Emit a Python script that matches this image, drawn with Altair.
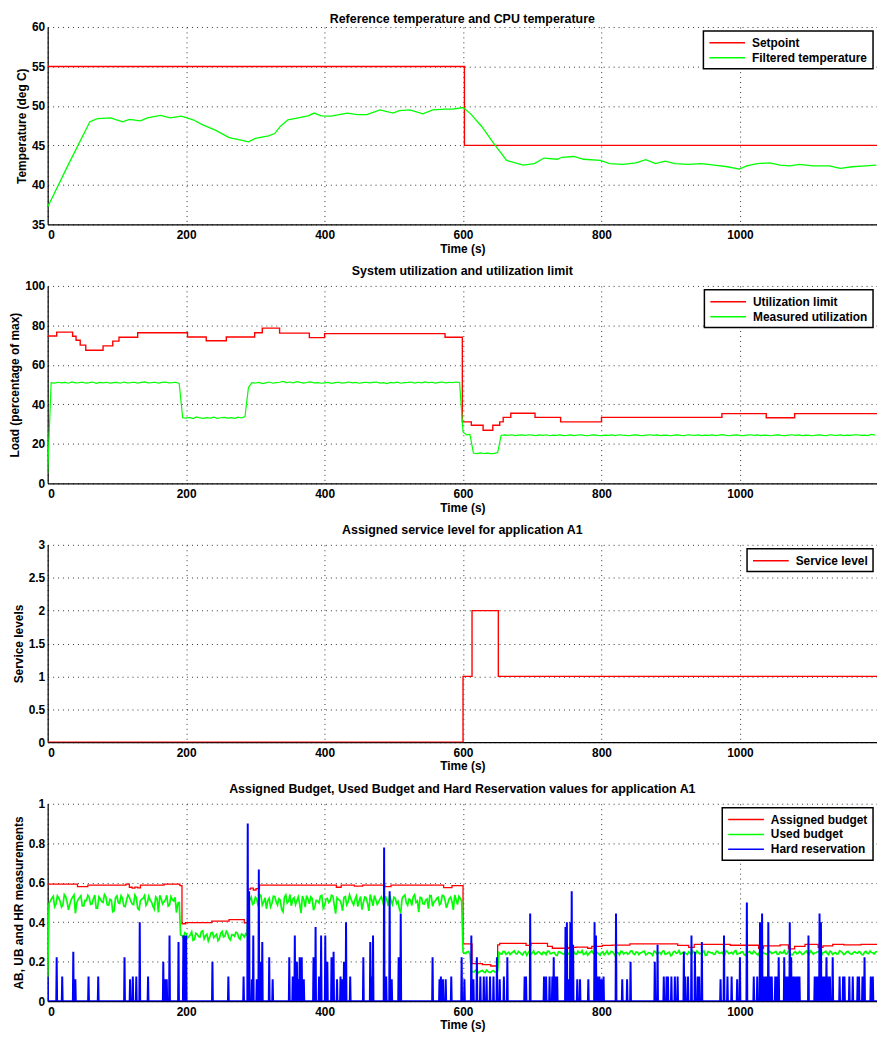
import altair as alt
import pandas as pd

FONT = "Liberation Sans"
RED, GREEN, BLUE = "#ff0000", "#00ff00", "#0000ff"
T_END = 1198
X_TICKS = [0, 200, 400, 600, 800, 1000]

# ---------------- Panel 1: temperatures ----------------
setpoint_t = [0, 602, 1198]
setpoint_v = [55, 45, 45]
temp_t = [0, 30, 61, 72, 91, 108, 118, 134, 144, 163,
          177, 193, 210, 224, 243, 262, 276, 290, 300, 319,
          328, 336, 347, 362, 376, 385, 395, 409, 433, 447,
          461, 480, 499, 508, 523, 542, 556, 575, 585, 600,
          611, 627, 644, 663, 687, 703, 717, 736, 743, 760,
          774, 798, 812, 831, 850, 864, 878, 892, 906, 925,
          944, 963, 982, 999, 1010, 1025, 1043, 1058, 1072, 1086,
          1105, 1129, 1145, 1162, 1181, 1197]
temp_v = [37.2, 42.6, 48.0, 48.4, 48.5, 48.0, 48.3, 48.1, 48.5, 48.8,
          48.5, 48.7, 48.25, 47.6, 46.9, 46.0, 45.75, 45.45, 45.9, 46.2,
          46.5, 47.4, 48.25, 48.5, 48.75, 49.1, 48.75, 48.7, 49.1, 48.9,
          48.9, 49.5, 49.1, 49.4, 49.5, 49.0, 49.5, 49.6, 49.6, 49.8,
          49.0, 47.4, 45.3, 43.1, 42.5, 42.7, 43.4, 43.25, 43.5, 43.6,
          43.25, 43.1, 42.7, 42.6, 42.8, 43.2, 42.7, 43.0, 42.7, 42.6,
          42.7, 42.5, 42.3, 42.0, 42.4, 42.7, 42.8, 42.5, 42.4, 42.6,
          42.4, 42.4, 42.1, 42.3, 42.4, 42.5]

# ---------------- Panel 2: utilization ----------------
limit_t = [0, 13, 36, 41, 47, 55, 80, 94, 103, 130,
           202, 229, 258, 299, 310, 335, 378, 400, 574, 599,
           612, 629, 643, 653, 658, 669, 704, 741, 800, 974,
           1038, 1079, 1198]
limit_v = [74.6, 76.6, 74.5, 72.5, 70.0, 67.4, 69.6, 72.0, 74.0, 76.3,
           74.1, 72.2, 74.1, 76.3, 78.6, 76.1, 73.8, 75.8, 74.0, 31.1,
           29.4, 26.9, 29.4, 31.1, 33.4, 35.5, 33.4, 31.1, 33.4, 35.3,
           33.2, 35.3, 35.3]
UTIL_STEP = 5  # seconds between samples
util_v = [
    5.0, 51.0, 50.8, 51.2, 50.9, 51.1, 50.7, 51.4, 50.9, 51.0,
    51.2, 50.8, 51.0, 51.3, 50.6, 51.1, 50.9, 51.2, 50.8, 51.0,
    51.1, 50.7, 51.3, 50.9, 51.0, 51.2, 50.8, 51.1, 51.4, 50.9,
    51.0, 51.2, 50.8, 51.1, 51.3, 50.9, 51.0, 51.2, 50.6, 33.2,
    33.0, 33.4, 32.8, 33.6, 33.1, 32.9, 33.3, 33.0, 33.5, 32.9,
    33.2, 33.4, 33.0, 33.3, 32.9, 33.5, 33.1, 33.8, 48.5, 51.0,
    50.8, 51.1, 50.5, 50.9, 51.3, 50.7, 51.0, 51.2, 51.6, 51.0,
    51.3, 50.9, 51.5, 51.1, 50.8, 51.2, 51.4, 50.9, 51.0, 50.7,
    50.9, 51.1, 50.6, 51.0, 51.2, 50.8, 51.0, 51.3, 50.9, 51.1,
    50.7, 51.0, 51.2, 50.9, 51.1, 51.3, 50.8, 51.0, 50.5, 51.1,
    50.9, 51.2, 50.7, 51.0, 51.1, 51.3, 50.8, 51.2, 50.9, 51.4,
    51.0, 51.2, 50.8, 51.1, 51.3, 50.9, 51.2, 51.0, 51.3, 51.1,
    26.0, 24.5, 24.8, 15.3, 15.0, 15.4, 15.1, 15.3, 15.0, 15.2,
    15.6, 24.2, 24.5, 24.3, 24.6, 24.2, 24.4, 24.5, 24.3, 24.6,
    24.4, 24.2, 24.5, 24.3, 24.6, 24.1, 24.4, 24.3, 24.5, 24.2,
    24.3, 24.5, 24.2, 24.4, 24.6, 24.3, 24.1, 24.4, 24.5, 24.3,
    24.2, 24.4, 24.3, 24.5, 24.2, 24.6, 24.4, 24.3, 24.1, 24.4,
    24.5, 24.3, 24.2, 24.4, 24.6, 24.3, 24.5, 24.2, 24.4, 24.3,
    24.1, 24.4, 24.5, 24.3, 24.2, 24.6, 24.4, 24.3, 24.5, 24.2,
    24.4, 24.3, 24.5, 24.2, 24.4, 24.7, 24.3, 24.1, 24.4, 24.5,
    24.3, 24.2, 24.4, 24.6, 24.3, 24.5, 24.2, 24.4, 24.3, 24.1,
    24.4, 24.5, 24.3, 24.2, 24.4, 24.6, 24.3, 24.5, 24.2, 24.4,
    24.3, 24.1, 24.4, 24.5, 24.3, 24.2, 24.6, 24.4, 24.3, 24.5,
    24.2, 24.4, 24.3, 24.5, 24.6, 24.3, 24.4, 24.2, 24.8, 24.4,
]

# ---------------- Panel 3: service level ----------------
level_t = [0, 600, 613, 651, 1198]
level_v = [0, 1, 2, 1, 1]

# ---------------- Panel 4: budgets ----------------
assigned = [
    (0, .593), (43, .580), (58, .588), (113, .593), (118, .577), (122, .572),
    (126, .578), (130, .574), (134, .588), (168, .593), (191, .585), (194, .392),
    (199, .398), (237, .405), (262, .413), (284, .397), (289, .567), (293, .572),
    (297, .563), (301, .570), (306, .588), (417, .577), (424, .588), (443, .583),
    (455, .588), (487, .580), (496, .588), (572, .575), (584, .585), (600, .290),
    (613, .190), (628, .185), (640, .178), (650, .285), (653, .293), (691, .282),
    (698, .293), (722, .277), (729, .268), (753, .272), (763, .274), (780, .268),
    (786, .277), (801, .282), (815, .284), (841, .290), (910, .282), (926, .272),
    (934, .288), (986, .283), (1027, .267), (1034, .280), (1058, .285), (1070, .265),
    (1079, .277), (1094, .287), (1113, .273), (1120, .280), (1134, .288), (1150, .285),
    (1175, .288), (1198, .288),
]
# Used budget, in thousandths: samples at t = 0, 4, 8, ... (even grid)
used_even = [
    120, 508, 531, 492, 522, 476, 540, 503, 491, 527,
    445, 515, 534, 482, 509, 525, 493, 537, 470, 518,
    500, 529, 486, 511, 458, 533, 495, 521, 479, 538,
    506, 489, 524, 463, 517, 535, 498, 512, 481, 528,
    449, 519, 503, 536, 487, 514, 526, 497, 335, 318,
    342, 327, 351, 312, 338, 324, 356, 331, 305, 347,
    322, 339, 316, 353, 329, 344, 310, 336, 349, 321,
    340, 325, 333, 512, 490, 527, 481, 535, 503, 468,
    521, 496, 530, 487, 512, 452, 538, 505, 483, 524,
    509, 492, 533, 476, 517, 528, 461, 511, 497, 536,
    484, 520, 507, 532, 443, 515, 494, 526, 488, 539,
    502, 516, 479, 530, 498, 523, 457, 512, 535, 490,
    518, 504, 531, 482, 509, 527, 495, 466, 521, 538,
    486, 513, 529, 500, 451, 524, 492, 517, 535, 480,
    508, 526, 497, 533, 472, 519, 505, 538, 489, 522,
    248, 241, 252, 153, 147, 158, 149, 155, 144, 151,
    146, 154, 149, 246, 238, 251, 243, 236, 249, 241,
    252, 239, 247, 233, 255, 244, 237, 250, 241, 248,
    236, 253, 242, 246, 231, 249, 240, 254, 238, 245,
    251, 237, 244, 256, 240, 233, 248, 243, 252, 239,
    246, 235, 254, 241, 249, 229, 245, 253, 238, 247,
    242, 255, 236, 248, 244, 251, 234, 246, 240, 253,
    239, 247, 252, 237, 245, 230, 250, 243, 256, 241,
    248, 236, 244, 253, 239, 246, 242, 254, 233, 249,
    245, 238, 251, 243, 236, 255, 240, 247, 252, 237,
    244, 250, 231, 248, 241, 253, 239, 246, 255, 242,
    236, 249, 245, 252, 238, 243, 256, 240, 247, 234,
    251, 242, 246, 239, 254, 237, 248, 244, 250, 241,
    245, 253, 236, 249, 243, 238, 255, 246, 240, 252,
    239, 247, 244, 251, 236, 248, 242, 254, 245, 249,
]
# Used budget, in thousandths: samples at t = 2, 6, 10, ... (odd grid)
used_odd = [
    495, 521, 478, 533, 506, 487, 529, 462, 515, 538,
    497, 524, 483, 511, 536, 490, 519, 471, 528, 504,
    540, 488, 516, 453, 525, 499, 534, 481, 512, 527,
    493, 538, 470, 509, 522, 485, 531, 502, 466, 519,
    536, 492, 513, 481, 529, 507, 448, 500, 332, 347,
    319, 336, 308, 344, 327, 352, 315, 339, 323, 348,
    331, 306, 343, 325, 354, 318, 337, 328, 345, 313,
    336, 341, 500, 527, 496, 518, 540, 487, 523, 509,
    478, 531, 504, 519, 463, 526, 497, 540, 515, 489,
    528, 446, 512, 535, 493, 520, 481, 507, 532, 470,
    516, 499, 537, 486, 524, 511, 458, 530, 502, 519,
    487, 533, 508, 464, 527, 495, 540, 483, 514, 501,
    529, 476, 512, 536, 490, 522, 505, 447, 531, 498,
    517, 484, 539, 508, 526, 493, 512, 469, 534, 502,
    521, 488, 536, 511, 495, 527, 462, 514, 531, 506,
    243, 250, 238, 149, 156, 143, 152, 148, 157, 146,
    153, 147, 152, 240, 252, 237, 248, 244, 255, 239,
    247, 234, 251, 243, 238, 254, 241, 249, 236, 245,
    252, 240, 246, 233, 250, 244, 237, 255, 242, 248,
    239, 253, 245, 236, 249, 241, 256, 238, 246, 232,
    250, 243, 237, 252, 240, 247, 234, 251, 245, 238,
    254, 241, 249, 236, 246, 253, 239, 244, 231, 250,
    243, 237, 255, 240, 248, 234, 252, 245, 238, 247,
    241, 250, 236, 245, 254, 239, 247, 232, 251, 244,
    237, 253, 242, 248, 235, 250, 244, 239, 256, 241,
    249, 236, 245, 252, 240, 247, 233, 251, 243, 238,
    254, 241, 248, 237, 250, 244, 239, 253, 235, 246,
    240, 252, 236, 249, 243, 255, 238, 245, 251, 233,
    248, 242, 253, 237, 246, 240, 251, 236, 249, 244,
    238, 250, 243, 247, 235, 252, 241, 246, 239, 251,
]
hard_res = [
    (0, .125), (13, .222), (21, .125), (37, .25), (40, .111), (59, .125), (73, .125),
    (111, .222), (119, .111), (123, .125), (128, .125), (133, .40), (145, .125),
    (167, .20), (170, .111), (172, .111), (176, .333), (189, .30), (196, .333),
    (198, .333), (200, .333), (238, .20), (261, .125), (283, .125), (289, .90),
    (291, .556), (295, .111), (297, .333), (302, .111), (305, .667), (307, .20),
    (310, .30), (320, .222), (325, .111), (349, .222), (354, .125), (357, .333),
    (360, .20), (362, .111), (364, .222), (367, .222), (370, .111), (384, .222),
    (387, .375), (392, .125), (395, .333), (401, .333), (404, .20), (410, .222),
    (413, .25), (418, .111), (423, .125), (425, .111), (428, .20), (431, .40),
    (437, .125), (456, .222), (466, .30), (468, .125), (470, .333), (486, .778),
    (489, .125), (494, .556), (497, .111), (507, .222), (510, .444), (556, .222),
    (566, .111), (568, .125), (571, .111), (575, .111), (583, .125), (598, .222),
    (602, .111), (612, .333), (615, .111), (620, .222), (625, .125), (630, .125),
    (634, .125), (639, .125), (644, .125), (649, .222), (653, .111), (659, .125),
    (664, .222), (689, .125), (691, .125), (697, .444), (717, .125), (720, .125),
    (725, .125), (729, .125), (731, .222), (734, .125), (736, .125), (748, .375),
    (750, .40), (753, .111), (755, .40), (757, .556), (759, .286), (765, .111),
    (769, .111), (781, .111), (790, .40), (792, .333), (794, .125), (797, .125),
    (800, .111), (803, .125), (821, .444), (830, .111), (837, .111), (842, .20),
    (877, .20), (881, .286), (890, .125), (894, .125), (896, .125), (901, .125),
    (906, .125), (910, .125), (919, .25), (921, .125), (925, .125), (930, .333),
    (935, .25), (939, .125), (941, .125), (945, .30), (972, .111), (977, .333),
    (982, .125), (988, .125), (996, .111), (1000, .222), (1010, .50), (1020, .125),
    (1025, .125), (1029, .40), (1032, .444), (1034, .125), (1037, .125), (1039, .125),
    (1041, .40), (1044, .125), (1046, .125), (1051, .125), (1053, .125), (1056, .222),
    (1064, .222), (1067, .125), (1070, .125), (1072, .40), (1074, .222), (1077, .125),
    (1079, .125), (1082, .125), (1084, .125), (1086, .125), (1099, .333), (1108, .125),
    (1110, .125), (1112, .125), (1115, .444), (1117, .40), (1120, .125), (1122, .125),
    (1125, .222), (1127, .125), (1130, .125), (1134, .222), (1144, .125), (1149, .125),
    (1151, .125), (1158, .125), (1163, .125), (1170, .125), (1172, .125), (1177, .125),
    (1180, .222), (1189, .125), (1192, .125),
]

# ---------------- tables ----------------
def frame(ts, vs, name):
    return pd.DataFrame({"t": list(ts), "v": list(vs), "series": name})

p1_set = frame(setpoint_t, setpoint_v, "Setpoint")
p1_tmp = frame(temp_t, temp_v, "Filtered temperature")
p2_lim = frame(limit_t, limit_v, "Utilization limit")
p2_use = frame([i * UTIL_STEP for i in range(len(util_v))], util_v, "Measured utilization")
p3_lvl = frame(level_t, level_v, "Service level")
p4_ab = frame([a for a, _ in assigned], [b for _, b in assigned], "Assigned budget")
ub_t = [4 * i for i in range(len(used_even))] + [4 * i + 2 for i in range(len(used_odd))]
ub_v = [m / 1000 for m in used_even] + [m / 1000 for m in used_odd]
p4_ub = frame(ub_t, ub_v, "Used budget").sort_values("t")
hr_rows = [(0, 0.0)]
for t, h in hard_res:
    hr_rows += [(t - 0.6, 0.0), (t, h), (t + 0.6, 0.0)]
hr_rows.append((T_END, 0.0))
p4_hr = frame([a for a, _ in hr_rows], [b for _, b in hr_rows], "Hard reservation")

W, H = 836, 199


def xenc():
    return alt.X("t:Q", scale=alt.Scale(domain=[0, T_END], nice=False, zero=False),
                 axis=alt.Axis(values=X_TICKS, title="Time (s)", format="d"))


def panel(layers, title, ytitle, ydom, yticks, yfmt, names, colors, toff):
    color = alt.Color("series:N",
                      scale=alt.Scale(domain=names, range=colors),
                      legend=alt.Legend(title=None, orient="top-right"))
    charts = []
    for df, interp, sw in layers:
        charts.append(
            alt.Chart(df).mark_line(interpolate=interp, strokeWidth=sw, clip=True).encode(
                x=xenc(),
                y=alt.Y("v:Q", scale=alt.Scale(domain=ydom, nice=False, zero=False),
                        axis=alt.Axis(values=yticks, title=ytitle, format=yfmt)),
                color=color,
            )
        )
    return alt.layer(*charts).properties(
        width=W, height=H,
        title=alt.TitleParams(title, font=FONT, fontSize=12.5, fontWeight="bold",
                              color="black", offset=toff))


c1 = panel([(p1_set, "step-after", 1.4), (p1_tmp, "linear", 1.3)],
           "Reference temperature and CPU temperature", "Temperature (deg C)",
           [35, 60], [35, 40, 45, 50, 55, 60], "d",
           ["Setpoint", "Filtered temperature"], [RED, GREEN], -4)
c2 = panel([(p2_lim, "step-after", 1.4), (p2_use, "linear", 1.2)],
           "System utilization and utilization limit", "Load (percentage of max)",
           [0, 100], [0, 20, 40, 60, 80, 100], "d",
           ["Utilization limit", "Measured utilization"], [RED, GREEN], 2)
c3 = panel([(p3_lvl, "step-after", 1.4)],
           "Assigned service level for application A1", "Service levels",
           [0, 3], [0, 0.5, 1, 1.5, 2, 2.5, 3], "~r",
           ["Service level"], [RED], 2)
c4 = panel([(p4_ab, "step-after", 1.3), (p4_ub, "linear", 1.7), (p4_hr, "linear", 2.0)],
           "Assigned Budget, Used Budget and Hard Reservation values for application A1",
           "AB, UB and HR measurements",
           [0, 1], [0, 0.2, 0.4, 0.6, 0.8, 1], "~r",
           ["Assigned budget", "Used budget", "Hard reservation"], [RED, GREEN, BLUE], 2)

chart = alt.vconcat(c1, c2, c3, c4, spacing=11).resolve_scale(color="independent").properties(
    padding={"left": 0, "top": 0, "right": 0, "bottom": 0}
).configure_view(stroke=None).configure_axis(
    domainColor="black", domainWidth=1.2,
    labelFont=FONT, labelFontSize=12, labelFontWeight="bold", labelColor="black",
    titleFont=FONT, titleFontSize=12, titleFontWeight="bold", titleColor="black",
    grid=True, gridColor="#333333", gridDash=[1, 4], gridWidth=1,
    ticks=False, labelPadding=3, titlePadding=3,
).configure_axisX(titlePadding=3, labelPadding=5).configure_legend(
    strokeColor="black", strokeWidth=1.5, fillColor="white", padding=5,
    cornerRadius=0, offset=4, labelFont=FONT, labelFontSize=12,
    labelFontWeight="bold", labelColor="black", symbolType="M-1,0H5",
    symbolSize=144, symbolStrokeWidth=1.5, labelOffset=30, rowPadding=2,
)

chart.save("out.html", embed_options={"renderer": "svg", "actions": False})
